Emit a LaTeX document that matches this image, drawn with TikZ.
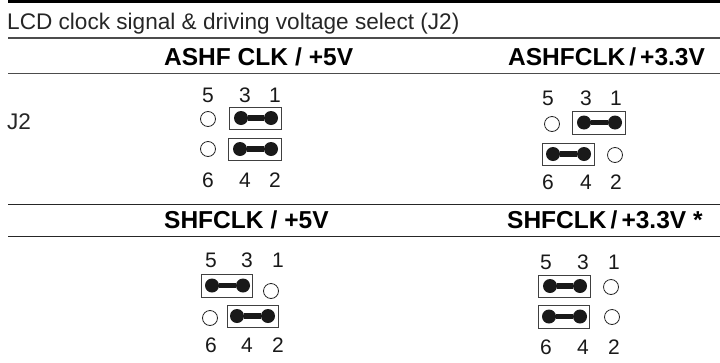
\documentclass[tikz,border=0pt]{standalone}
\usepackage{fontspec}
\setmainfont{Liberation Sans}
\newcommand{\jumper}[6]{%
  % #1 prefix, #2 x label left, #3 x mid, #4 x right, #5 top y, #6 bottom y
  \node[pinlabel] (#1l5) at (#2,#5) {5};
  \node[pinlabel] (#1l3) at (#3,#5) {3};
  \node[pinlabel] (#1l1) at (#4,#5) {1};
  \node[pinlabel] (#1l6) at (#2,#6) {6};
  \node[pinlabel] (#1l4) at (#3,#6) {4};
  \node[pinlabel] (#1l2) at (#4,#6) {2};
}
\newcommand{\shunt}[7]{%
  % prefix, box x0,y0,x1,y1, left dot x, right dot x
  \node[shuntbox,minimum width={#4-#2},minimum height={#5-#3}] (#1box) at ({(#2+#4)/2},{(#3+#5)/2}) {};
  \node[pinfull] (#1a) at (#6,{(#3+#5)/2}) {};
  \node[pinfull] (#1b) at (#7,{(#3+#5)/2}) {};
  \draw[bar] (#1a) -- (#1b);
}
\tikzset{
  pinlabel/.style={font=\fontsize{21}{21}\selectfont,inner sep=0pt,text=black!90},
  heading/.style={font=\fontsize{24.5}{26}\bfseries\selectfont,inner sep=0pt,anchor=base west},
  plain/.style={font=\fontsize{22.6}{24}\selectfont,inner sep=0pt,anchor=base west,text=black!85},
  shuntbox/.style={draw=black!75,line width=0.9pt,inner sep=0pt,outer sep=0pt},
  pinfull/.style={circle,fill=black!90,inner sep=0pt,minimum size=14pt},
  pinopen/.style={circle,draw=black!85,fill=white,line width=0.8pt,inner sep=0pt,minimum size=15pt},
  bar/.style={line width=5.5pt,black!90},
  rulethin/.style={line width=1.1pt,black!70},
  rulehead/.style={line width=1.1pt,black!85}
}
\begin{document}
\begin{tikzpicture}[x=1pt,y=-1pt]
\useasboundingbox (0,0) rectangle (720,362);
\coordinate (r0a) at (8,1.5); \coordinate (r0b) at (720,1.5);
\coordinate (r1a) at (8,38);  \coordinate (r1b) at (720,38);
\coordinate (r2a) at (8,73.5);\coordinate (r2b) at (720,73.5);
\coordinate (r3a) at (8,204.5);\coordinate (r3b) at (720,204.5);
\coordinate (r4a) at (8,236.5);\coordinate (r4b) at (720,236.5);
\draw[line width=3.4pt,black] (r0a) -- (r0b);
\draw[rulethin] (r1a) -- (r1b);
\draw[rulethin] (r2a) -- (r2b);
\draw[rulehead] (r3a) -- (r3b);
\draw[rulehead] (r4a) -- (r4b);
\node[plain] (title) at (7,29) {LCD clock signal \& driving voltage select (J2)};
\node[heading] (h1) at (164,65) {ASHF CLK\hspace{7pt}/\hspace{7pt}+5V};
\node[heading] (h2) at (508,65) {ASHFCLK\,/\,+3.3V};
\node[heading] (h3) at (164,228) {SHFCLK\hspace{7pt}/\hspace{7pt}+5V};
\node[heading] (h4) at (507,228) {SHFCLK\,/\,+3.3V *};
\node[plain] (j2) at (7,129.5) {J2};
% A
\jumper{a}{208}{245}{275}{95}{180}
\node[pinopen] (ao1) at (208,119) {};
\node[pinopen] (ao2) at (208,149) {};
\shunt{as}{229}{107}{281}{129}{241}{271}
\shunt{at}{228}{138}{281}{160}{240}{271}
% B
\jumper{b}{548}{586}{616}{98}{182}
\node[pinopen] (bo1) at (552,124) {};
\node[pinopen] (bo2) at (615,155) {};
\shunt{bs}{572}{111}{625}{134}{584}{615}
\shunt{bt}{542}{143}{594}{165}{553}{584}
% C
\jumper{c}{211}{247}{278}{260}{345}
\node[pinopen] (co1) at (271,291) {};
\node[pinopen] (co2) at (210,318) {};
\shunt{cs}{201}{274}{252}{297}{212}{243}
\shunt{ct}{227}{305}{278}{327}{237}{268}
% D
\jumper{d}{546}{583}{614}{262}{347}
\node[pinopen] (do1) at (611,287) {};
\node[pinopen] (do2) at (612,317) {};
\shunt{ds}{538}{275}{590}{297}{550}{580}
\shunt{dt}{538}{305}{589}{328}{549}{580}
\end{tikzpicture}
\end{document}
